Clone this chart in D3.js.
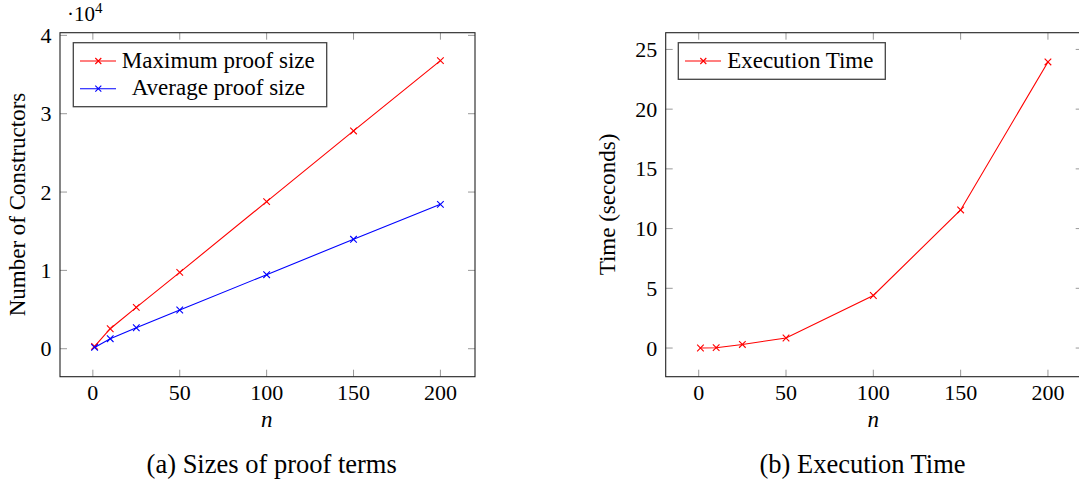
<!DOCTYPE html>
<html>
<head>
<meta charset="utf-8">
<script src="https://cdn.jsdelivr.net/npm/d3@7"></script>
<style>
  body { margin: 0; background: #fff; }
  text { font-family: "Liberation Serif", "Times New Roman", serif; fill: #000; }
</style>
</head>
<body>
<script>
const w = 1079;
const h = 483;
const tickSize = 22;
const labelSize = 23;
const captionSize = 26.5;

// data
const nValues = [1, 10, 25, 50, 100, 150, 200];
const maxProofSize = [0.03, 0.255, 0.528, 0.975, 1.877, 2.78, 3.677]; // x 10^4
const avgProofSize = [0.017, 0.128, 0.268, 0.494, 0.945, 1.397, 1.843]; // x 10^4
const execTime = [0.0, 0.03, 0.3, 0.84, 4.4, 11.56, 23.95];

const xTicks = [0, 50, 100, 150, 200];
const sizeTicks = [0, 1, 2, 3, 4];
const timeTicks = [0, 5, 10, 15, 20, 25];

const svg = d3.select("body")
  .append("svg")
  .attr("width", w)
  .attr("height", h);

function crossPath(x, y, r) {
  return "M" + (x - r) + "," + (y - r) + "L" + (x + r) + "," + (y + r) +
    "M" + (x - r) + "," + (y + r) + "L" + (x + r) + "," + (y - r);
}

function drawPanel(opt) {
  const left = opt.left, right = opt.right, top = 32.7, bottom = 376.7;

  const xScale = d3.scaleLinear()
    .domain([-18.9, 219.9])
    .range([left, right]);

  const yScale = d3.scaleLinear()
    .domain(opt.yDomain)
    .range([bottom, top]);

  const g = svg.append("g");

  // ticks inside, on all four sides
  const tickLen = 7;
  const ticks = g.append("g").attr("stroke", "#999").attr("stroke-width", 1);
  xTicks.forEach(t => {
    const x = xScale(t);
    ticks.append("line").attr("x1", x).attr("x2", x).attr("y1", bottom).attr("y2", bottom - tickLen);
    ticks.append("line").attr("x1", x).attr("x2", x).attr("y1", top).attr("y2", top + tickLen);
  });
  opt.yTicks.forEach(t => {
    const y = yScale(t);
    ticks.append("line").attr("x1", left).attr("x2", left + tickLen).attr("y1", y).attr("y2", y);
    ticks.append("line").attr("x1", right).attr("x2", right - tickLen).attr("y1", y).attr("y2", y);
  });

  // frame
  g.append("rect")
    .attr("x", left)
    .attr("y", top)
    .attr("width", right - left)
    .attr("height", bottom - top)
    .attr("fill", "none")
    .attr("stroke", "#222")
    .attr("stroke-width", 1.1);

  // tick labels
  g.selectAll(".xlab")
    .data(xTicks)
    .enter().append("text")
    .attr("x", d => xScale(d))
    .attr("y", 400)
    .attr("text-anchor", "middle")
    .style("font-size", tickSize + "px")
    .text(d => d);

  g.selectAll(".ylab")
    .data(opt.yTicks)
    .enter().append("text")
    .attr("x", left - 8.5)
    .attr("y", d => yScale(d) + 7.5)
    .attr("text-anchor", "end")
    .style("font-size", tickSize + "px")
    .text(d => d);

  // axis labels
  g.append("text")
    .attr("x", xScale(100))
    .attr("y", 427)
    .attr("text-anchor", "middle")
    .style("font-size", labelSize + "px")
    .style("font-style", "italic")
    .text("n");

  g.append("text")
    .attr("transform", "translate(" + opt.yLabelX + ",204.5) rotate(-90)")
    .attr("text-anchor", "middle")
    .style("font-size", labelSize + "px")
    .text(opt.yLabel);

  g.append("text")
    .attr("x", opt.captionX)
    .attr("y", 473.3)
    .attr("text-anchor", "middle")
    .style("font-size", captionSize + "px")
    .text(opt.caption);

  // series
  const line = d3.line()
    .x((d, i) => xScale(nValues[i]))
    .y(d => yScale(d));

  opt.series.forEach(s => {
    g.append("path")
      .datum(s.values)
      .attr("d", line)
      .attr("fill", "none")
      .attr("stroke", s.color)
      .attr("stroke-width", 1.1);
    g.append("g")
      .selectAll("path")
      .data(s.values)
      .enter().append("path")
      .attr("d", (d, i) => crossPath(xScale(nValues[i]), yScale(d), 3.3))
      .attr("stroke", s.color)
      .attr("stroke-width", 1.1)
      .attr("fill", "none");
  });

  // legend
  const lg = opt.legend;
  g.append("rect")
    .attr("x", lg.x)
    .attr("y", lg.y)
    .attr("width", lg.w)
    .attr("height", lg.h)
    .attr("fill", "#fff")
    .attr("stroke", "#444")
    .attr("stroke-width", 1.3);

  opt.series.forEach((s, i) => {
    const ly = lg.y + 18.3 + i * 27.7;
    g.append("line")
      .attr("x1", lg.x + 6.7)
      .attr("x2", lg.x + 42.7)
      .attr("y1", ly)
      .attr("y2", ly)
      .attr("stroke", s.color)
      .attr("stroke-width", 1.1);
    g.append("path")
      .attr("d", crossPath(lg.x + 25, ly, 3))
      .attr("stroke", s.color)
      .attr("stroke-width", 1.1);
    g.append("text")
      .attr("x", lg.textCenter)
      .attr("y", ly + 6.5)
      .attr("text-anchor", "middle")
      .style("font-size", labelSize + "px")
      .text(s.name);
  });

  return g;
}

drawPanel({
  left: 60,
  right: 475,
  yDomain: [-0.357, 4.034],
  yTicks: sizeTicks,
  yLabel: "Number of Constructors",
  yLabelX: 25,
  caption: "(a) Sizes of proof terms",
  captionX: 271.7,
  series: [
    { name: "Maximum proof size", values: maxProofSize, color: "#ff0000" },
    { name: "Average proof size", values: avgProofSize, color: "#0000ff" }
  ],
  legend: { x: 73.3, y: 42.7, w: 253.4, h: 64, textCenter: 218.3 }
});

// exponent label
const expo = svg.append("text")
  .attr("x", 67)
  .attr("y", 20.5)
  .style("font-size", "21px");
expo.append("tspan").text("\u00b710");
expo.append("tspan")
  .attr("dy", -8)
  .style("font-size", "15px")
  .text("4");

drawPanel({
  left: 665.7,
  right: 1082.7,
  yDomain: [-2.4, 26.4],
  yTicks: timeTicks,
  yLabel: "Time (seconds)",
  yLabelX: 615,
  caption: "(b) Execution Time",
  captionX: 862.5,
  series: [
    { name: "Execution Time", values: execTime, color: "#ff0000" }
  ],
  legend: { x: 678.3, y: 42.7, w: 207, h: 36.6, textCenter: 800.3 }
});
</script>
</body>
</html>
